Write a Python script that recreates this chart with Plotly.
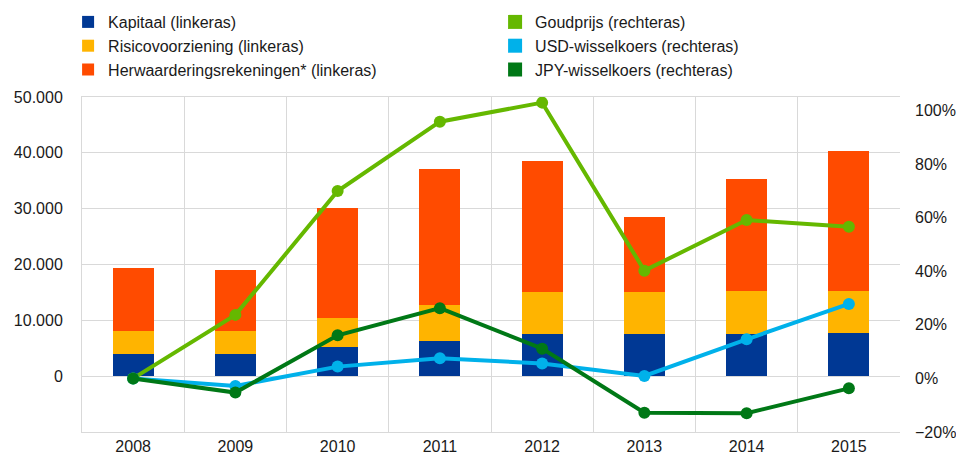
import plotly.graph_objects as go

years = ["2008", "2009", "2010", "2011", "2012", "2013", "2014", "2015"]

kapitaal = [4000, 4000, 5250, 6350, 7550, 7550, 7550, 7650]
risico = [4100, 4100, 5150, 6350, 7550, 7550, 7750, 7650]
herwaardering = [11300, 10900, 19700, 24400, 23500, 13400, 20100, 25000]

goud = [0.0, 0.237, 0.699, 0.958, 1.029, 0.402, 0.591, 0.566]
usd = [0.0, -0.028, 0.044, 0.075, 0.056, 0.009, 0.146, 0.278]
jpy = [0.0, -0.053, 0.161, 0.262, 0.111, -0.128, -0.130, -0.037]

left_ticks = [0, 10000, 20000, 30000, 40000, 50000]
right_ticks = [-0.2, 0.0, 0.2, 0.4, 0.6, 0.8, 1.0]

C_BLUE = "#003894"
C_YELLOW = "#FFB400"
C_RED = "#FF4B00"
C_GOLD = "#65B800"
C_USD = "#00B1EA"
C_JPY = "#007816"

FONT = "Liberation Sans, Arial, sans-serif"

fig = go.Figure()

bars = [
    ("Kapitaal (linkeras)", kapitaal, C_BLUE),
    ("Risicovoorziening (linkeras)", risico, C_YELLOW),
    ("Herwaarderingsrekeningen* (linkeras)", herwaardering, C_RED),
]
for name, vals, col in bars:
    fig.add_trace(go.Bar(
        x=years, y=vals, name=name, marker_color=col, marker_line_width=0,
        yaxis="y", legend="legend",
    ))

lines = [
    ("Goudprijs (rechteras)", goud, C_GOLD),
    ("USD-wisselkoers (rechteras)", usd, C_USD),
    ("JPY-wisselkoers (rechteras)", jpy, C_JPY),
]
for name, vals, col in lines:
    fig.add_trace(go.Scatter(
        x=years, y=vals, name=name, mode="lines+markers",
        line=dict(color=col, width=4), marker=dict(color=col, size=12),
        yaxis="y2", showlegend=False,
    ))
# legend entries shown as squares, like the reference
for name, vals, col in lines:
    fig.add_trace(go.Scatter(
        x=[None], y=[None], name=name, mode="markers",
        marker=dict(color=col, size=14, symbol="square"),
        yaxis="y2", legend="legend2",
    ))

GRID = "#d9d9d9"
LEG_Y = (432 - 5) / 335
fig.update_layout(
    width=956, height=457,
    margin=dict(l=82, r=56, t=97, b=25, autoexpand=False),
    paper_bgcolor="white", plot_bgcolor="white",
    barmode="stack", bargap=0.6,
    separators=",.",
    font=dict(family=FONT, size=16, color="#1a1a1a"),
    xaxis=dict(
        type="category", tickson="boundaries", showgrid=True, gridcolor=GRID,
        gridwidth=1, showline=True, linecolor=GRID, mirror=True, ticks="",
        tickfont=dict(size=16), automargin=False,
    ),
    yaxis=dict(
        range=[-10000, 50000], tickvals=left_ticks, tickformat=",d",
        showgrid=True, gridcolor=GRID, zeroline=False, showline=True,
        linecolor=GRID, ticks="", ticklabelstandoff=15,
        tickfont=dict(size=16), automargin=False,
    ),
    yaxis2=dict(
        overlaying="y", side="right", range=[-0.2, 1.05], tickvals=right_ticks,
        tickformat=".0%", showgrid=False, zeroline=False, showline=False,
        ticks="", ticklabelstandoff=14, tickfont=dict(size=16), automargin=False,
    ),
    legend=dict(
        x=-0.017, xanchor="left", y=LEG_Y, yanchor="top",
        orientation="v", tracegroupgap=0, font=dict(size=16),
        bgcolor="rgba(0,0,0,0)", traceorder="normal",
    ),
    legend2=dict(
        x=0.505, xanchor="left", y=LEG_Y, yanchor="top",
        orientation="v", tracegroupgap=0, font=dict(size=16),
        bgcolor="rgba(0,0,0,0)", traceorder="normal",
    ),
    showlegend=True,
)

fig.write_html(
    "out.html",
    config={"displayModeBar": False},
    post_script="document.body.style.margin='0';document.body.style.overflow='hidden';",
)
